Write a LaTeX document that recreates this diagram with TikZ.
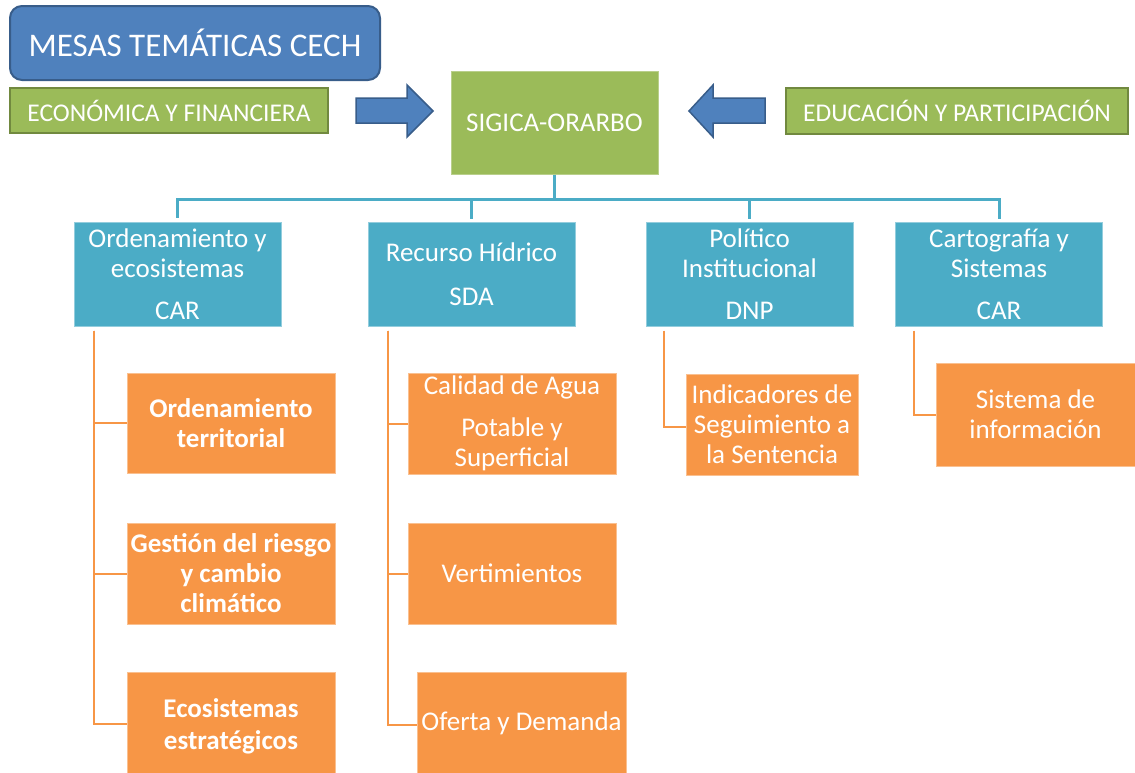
\documentclass[tikz,border=0pt]{standalone}
\usepackage{fontspec}
\setmainfont{Carlito}
\usetikzlibrary{calc}
\definecolor{cblue}{HTML}{4F81BD}
\definecolor{cbluedark}{HTML}{385D8A}
\definecolor{cgreen}{HTML}{9BBB59}
\definecolor{cgreendark}{HTML}{71893F}
\definecolor{cteal}{HTML}{4BACC6}
\definecolor{corange}{HTML}{F79646}
\begin{document}
\begin{tikzpicture}[x=1pt,y=-1pt,
  box/.style={inner sep=0pt, align=center, text=white},
  titlebox/.style={box, fill=cblue, draw=cbluedark, line width=2pt, rounded corners=12pt, font=\fontsize{33}{38}\selectfont},
  greenbox/.style={box, fill=cgreen, draw=cgreendark, line width=2pt, font=\fontsize{25.5}{30}\selectfont},
  sigbox/.style={box, fill=cgreen, draw=cgreen!70!white, line width=1pt, font=\fontsize{27}{30}\selectfont},
  tealbox/.style={box, fill=cteal, draw=cteal!60!white, line width=1pt, minimum width=207pt, minimum height=104pt, font=\fontsize{27}{30}\selectfont},
  orbox/.style={box, fill=corange, draw=corange!60!white, line width=1pt, font=\fontsize{27}{30}\selectfont},
  orboxb/.style={orbox, font=\fontsize{27}{30}\selectfont\bfseries},
  btree/.style={draw=cteal, line width=3pt},
  otree/.style={draw=corange, line width=2pt},
  blockarrow/.style={fill=cblue, draw=cbluedark, line width=1.5pt, line join=miter}
]
\useasboundingbox (0,0) rectangle (1135,772);
\fill[white] (0,0) rectangle (1135,772);

% top row
\node[titlebox, minimum width=370pt, minimum height=74pt] (title) at (195,43) {MESAS TEMÁTICAS CECH};
\node[greenbox, minimum width=318pt, minimum height=45pt] (econ) at (169,110.5) {ECONÓMICA Y FINANCIERA};
\node[sigbox, minimum width=207pt, minimum height=103pt] (sig) at (554.5,122.5) {SIGICA-ORARBO};
\node[greenbox, minimum width=342pt, minimum height=46pt] (educ) at (957,111) {EDUCACIÓN Y PARTICIPACIÓN};

% block arrows
\draw[blockarrow] (356,98) -- (407,98) -- (407,85) -- (433,111) -- (407,137) -- (407,123) -- (356,123) -- cycle;
\draw[blockarrow] (765,98) -- (713,98) -- (713,85) -- (689,111) -- (713,137) -- (713,123) -- (765,123) -- cycle;

% second level
\node[tealbox] (b1) at (177.5,274) {Ordenamiento y\\ecosistemas\\[12pt]CAR};
\node[tealbox] (b2) at (471.5,274) {Recurso Hídrico\\[14pt]SDA};
\node[tealbox] (b3) at (749.5,274) {Político\\Institucional\\[12pt]DNP};
\node[tealbox] (b4) at (999,274) {Cartografía y\\Sistemas\\[12pt]CAR};

% third level
\node[orboxb, minimum width=208pt, minimum height=100pt] (o11) at (231,423) {Ordenamiento\\territorial};
\node[orboxb, minimum width=208pt, minimum height=101pt] (o12) at (231,573.5) {Gestión del riesgo\\y cambio\\climático};
\node[orboxb, minimum width=208pt, minimum height=108pt] (o13) at (231,726) {Ecosistemas\\[2pt]estratégicos};
\node[orbox, minimum width=208pt, minimum height=101pt] (o21) at (512,423.5) {Calidad de Agua\\[12pt]Potable y\\Superficial};
\node[orbox, minimum width=208pt, minimum height=101pt] (o22) at (512,573.5) {Vertimientos};
\node[orbox, minimum width=209pt, minimum height=102pt] (o23) at (521.5,723) {Oferta y Demanda};
\node[orbox, minimum width=172pt, minimum height=101pt] (o31) at (772,424.5) {Indicadores de\\Seguimiento a\\la Sentencia};
\node[orbox, minimum width=199pt, minimum height=103pt] (o41) at (1035.5,414.5) {Sistema de\\información};

% teal tree
\draw[btree] (sig.south) -- ++(0,25) coordinate (bus);
\draw[btree, shorten >=4pt] (bus) -| (b1.north);
\draw[btree, shorten >=3pt] (bus) -| (b2.north);
\draw[btree, shorten >=3pt] (bus) -| (b3.north);
\draw[btree, shorten >=3pt] (bus) -| (b4.north);

% orange trees
\coordinate (r1) at ($(b1.south west)+(20,4)$);
\coordinate (r2) at ($(b2.south west)+(20,4)$);
\coordinate (r3) at ($(b3.south west)+(18,4)$);
\coordinate (r4) at ($(b4.south west)+(19,4)$);
\draw[otree] (r1) |- ($(o13.west)+(0,-2)$);
\draw[otree] (r1) |- (o11.west);
\draw[otree] (r1) |- (o12.west);
\draw[otree] (r2) |- ($(o23.west)+(0,2)$);
\draw[otree] (r2) |- (o21.west);
\draw[otree] (r2) |- (o22.west);
\draw[otree] (r3) |- ($(o31.west)+(0,2.5)$);
\draw[otree] (r4) |- (o41.west);
\end{tikzpicture}
\end{document}
